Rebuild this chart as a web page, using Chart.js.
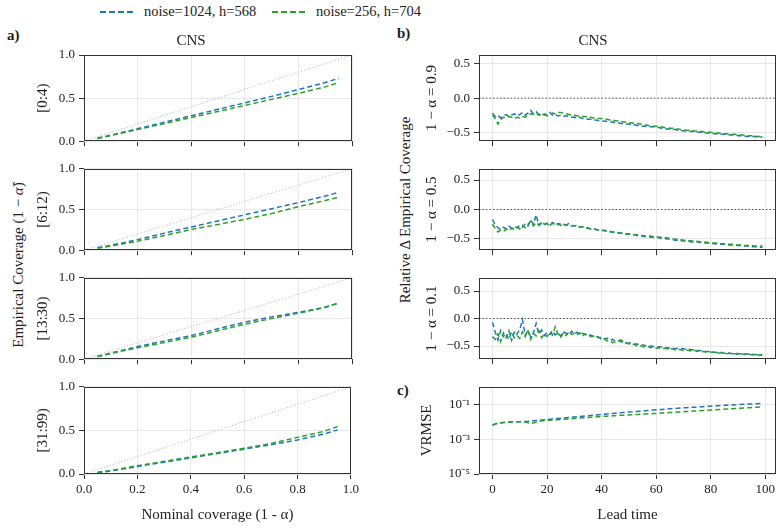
<!DOCTYPE html>
<html lang="en">
<head>
<meta charset="UTF-8">
<title>CNS coverage</title>
<script src="https://cdn.jsdelivr.net/npm/chart.js"></script>
<style>
  body { margin: 0; background: #fff; }
  #fig { position: relative; width: 783px; height: 531px; overflow: hidden;
         font-family: 'Liberation Serif', 'Times New Roman', serif; color: #222; }
  #fig canvas { position: absolute; }
  .txt { position: absolute; white-space: nowrap; line-height: 1.2; }
  .rot { transform: translate(-50%, -50%) rotate(-90deg); font-size: 15px; }
  .letter { font-weight: bold; font-size: 15px; }
  .swatch { position: absolute; height: 2px; }
</style>
</head>
<body>
<div id="fig">
  <div class="swatch" style="left:100px;top:11px;width:34px;background:repeating-linear-gradient(to right,#1f77b4 0 6px,transparent 6px 9px)"></div>
  <div class="txt" style="left:144px;top:3px;font-size:14.5px">noise=1024, h=568</div>
  <div class="swatch" style="left:272px;top:11px;width:34px;background:repeating-linear-gradient(to right,#2ca02c 0 6px,transparent 6px 9px)"></div>
  <div class="txt" style="left:316px;top:3px;font-size:14.5px">noise=256, h=704</div>

  <div class="txt letter" style="left:7px;top:26px">a)</div>
  <div class="txt letter" style="left:397px;top:24px">b)</div>
  <div class="txt letter" style="left:397px;top:381px">c)</div>

  <div class="txt rot" style="left:18px;top:265px">Empirical Coverage (1 − <i>α̂</i>)</div>
  <div class="txt rot" style="left:405px;top:210px">Relative Δ Empirical Coverage</div>
</div>
<script>
// ---- data ----
const nominal = [0.05, 0.1, 0.2, 0.3, 0.4, 0.5, 0.6, 0.7, 0.8, 0.9, 0.95];
const binLabels = ['[0:4)', '[6:12)', '[13:30)', '[31:99)'];

const cov0Blue  = [0.035, 0.07, 0.145, 0.22, 0.295, 0.37, 0.445, 0.52, 0.60, 0.68, 0.73];
const cov0Green = [0.03, 0.065, 0.135, 0.205, 0.275, 0.345, 0.415, 0.485, 0.555, 0.63, 0.68];
const cov1Blue  = [0.03, 0.06, 0.13, 0.21, 0.285, 0.36, 0.435, 0.51, 0.585, 0.665, 0.71];
const cov1Green = [0.025, 0.05, 0.11, 0.18, 0.255, 0.315, 0.38, 0.45, 0.535, 0.61, 0.65];
const cov2Blue  = [0.035, 0.075, 0.155, 0.225, 0.29, 0.375, 0.455, 0.52, 0.575, 0.64, 0.69];
const cov2Green = [0.03, 0.07, 0.14, 0.205, 0.27, 0.35, 0.43, 0.5, 0.565, 0.635, 0.69];
const cov3Blue  = [0.015, 0.035, 0.085, 0.135, 0.185, 0.235, 0.285, 0.335, 0.39, 0.46, 0.505];
const cov3Green = [0.02, 0.04, 0.095, 0.145, 0.195, 0.245, 0.295, 0.35, 0.42, 0.49, 0.545];

const leadTime = Array.from({length: 100}, (_, i) => i);
const alphaLabels = ['1 − α = 0.9', '1 − α = 0.5', '1 − α = 0.1'];

const rel09Blue = [
  -0.22, -0.27, -0.25, -0.29, -0.26, -0.24, -0.27, -0.25, -0.23, -0.26,
  -0.24, -0.21, -0.25, -0.22, -0.18, -0.23, -0.20, -0.24, -0.22, -0.25,
  -0.23, -0.21, -0.25, -0.24, -0.26, -0.25, -0.27, -0.26, -0.27, -0.28,
  -0.28, -0.29, -0.28, -0.30, -0.30, -0.31, -0.31, -0.32, -0.32, -0.33,
  -0.33, -0.34, -0.34, -0.35, -0.35, -0.36, -0.36, -0.37, -0.37, -0.38,
  -0.38, -0.39, -0.39, -0.40, -0.40, -0.41, -0.41, -0.42, -0.42, -0.42,
  -0.43, -0.43, -0.44, -0.44, -0.45, -0.45, -0.46, -0.46, -0.47, -0.47,
  -0.48, -0.48, -0.48, -0.49, -0.49, -0.50, -0.50, -0.50, -0.51, -0.51,
  -0.51, -0.52, -0.52, -0.52, -0.53, -0.53, -0.53, -0.54, -0.54, -0.54,
  -0.55, -0.55, -0.55, -0.56, -0.56, -0.56, -0.56, -0.57, -0.57, -0.57];
const rel09Green = [
  -0.25, -0.30, -0.38, -0.31, -0.28, -0.29, -0.27, -0.28, -0.30, -0.28,
  -0.29, -0.27, -0.28, -0.25, -0.23, -0.24, -0.22, -0.25, -0.24, -0.23,
  -0.26, -0.24, -0.22, -0.23, -0.21, -0.21, -0.22, -0.23, -0.24, -0.25,
  -0.25, -0.26, -0.26, -0.27, -0.27, -0.28, -0.28, -0.29, -0.29, -0.30,
  -0.30, -0.31, -0.31, -0.32, -0.32, -0.33, -0.33, -0.34, -0.35, -0.35,
  -0.36, -0.36, -0.37, -0.37, -0.38, -0.38, -0.39, -0.40, -0.40, -0.41,
  -0.41, -0.42, -0.42, -0.43, -0.43, -0.44, -0.44, -0.45, -0.45, -0.46,
  -0.46, -0.47, -0.47, -0.48, -0.48, -0.48, -0.49, -0.49, -0.50, -0.50,
  -0.50, -0.51, -0.51, -0.51, -0.52, -0.52, -0.52, -0.53, -0.53, -0.53,
  -0.54, -0.54, -0.54, -0.55, -0.55, -0.55, -0.55, -0.56, -0.56, -0.56];

const rel05Blue = [
  -0.17, -0.26, -0.31, -0.34, -0.30, -0.33, -0.28, -0.32, -0.29, -0.31,
  -0.27, -0.30, -0.24, -0.28, -0.18, -0.25, -0.09, -0.27, -0.23, -0.26,
  -0.24, -0.27, -0.22, -0.26, -0.24, -0.27, -0.25, -0.26, -0.24, -0.27,
  -0.28, -0.27, -0.30, -0.29, -0.31, -0.32, -0.33, -0.32, -0.34, -0.35,
  -0.36, -0.35, -0.37, -0.38, -0.38, -0.39, -0.40, -0.40, -0.41, -0.42,
  -0.41, -0.43, -0.43, -0.44, -0.45, -0.45, -0.46, -0.46, -0.47, -0.47,
  -0.47, -0.48, -0.49, -0.49, -0.50, -0.50, -0.51, -0.52, -0.52, -0.53,
  -0.53, -0.54, -0.54, -0.55, -0.55, -0.55, -0.56, -0.56, -0.57, -0.57,
  -0.57, -0.58, -0.58, -0.59, -0.59, -0.59, -0.60, -0.60, -0.60, -0.61,
  -0.61, -0.61, -0.62, -0.62, -0.62, -0.63, -0.63, -0.63, -0.64, -0.64];
const rel05Green = [
  -0.25, -0.32, -0.38, -0.35, -0.37, -0.33, -0.36, -0.32, -0.34, -0.30,
  -0.33, -0.27, -0.31, -0.25, -0.20, -0.28, -0.22, -0.26, -0.21, -0.25,
  -0.23, -0.27, -0.24, -0.22, -0.26, -0.23, -0.25, -0.27, -0.26, -0.28,
  -0.27, -0.29, -0.30, -0.29, -0.31, -0.31, -0.33, -0.33, -0.34, -0.35,
  -0.35, -0.36, -0.37, -0.37, -0.38, -0.39, -0.39, -0.40, -0.41, -0.41,
  -0.42, -0.42, -0.43, -0.43, -0.44, -0.44, -0.45, -0.45, -0.45, -0.46,
  -0.46, -0.47, -0.47, -0.48, -0.48, -0.49, -0.50, -0.50, -0.51, -0.51,
  -0.52, -0.52, -0.53, -0.53, -0.54, -0.54, -0.55, -0.55, -0.55, -0.56,
  -0.56, -0.57, -0.57, -0.57, -0.58, -0.58, -0.59, -0.59, -0.59, -0.60,
  -0.60, -0.60, -0.61, -0.61, -0.61, -0.61, -0.62, -0.62, -0.62, -0.62];

const rel01Blue = [
  -0.07, -0.25, -0.39, -0.22, -0.33, -0.27, -0.38, -0.24, -0.35, -0.28,
  -0.20, -0.02, -0.30, -0.22, -0.34, -0.26, -0.09, -0.28, -0.21, -0.31,
  -0.25, -0.29, -0.22, -0.30, -0.26, -0.32, -0.24, -0.27, -0.30, -0.23,
  -0.28, -0.25, -0.30, -0.27, -0.29, -0.31, -0.30, -0.33, -0.32, -0.35,
  -0.34, -0.37, -0.36, -0.39, -0.38, -0.41, -0.40, -0.42, -0.43, -0.44,
  -0.45, -0.44, -0.46, -0.47, -0.46, -0.48, -0.49, -0.50, -0.50, -0.51,
  -0.51, -0.52, -0.52, -0.53, -0.53, -0.54, -0.54, -0.55, -0.54, -0.55,
  -0.55, -0.56, -0.56, -0.57, -0.57, -0.58, -0.58, -0.59, -0.60, -0.60,
  -0.61, -0.61, -0.62, -0.61, -0.62, -0.63, -0.62, -0.63, -0.64, -0.63,
  -0.64, -0.64, -0.65, -0.64, -0.65, -0.65, -0.66, -0.65, -0.66, -0.66];
const rel01Green = [
  -0.33, -0.38, -0.28, -0.42, -0.26, -0.35, -0.22, -0.40, -0.25, -0.31,
  -0.36, -0.24, -0.33, -0.21, -0.38, -0.27, -0.32, -0.22, -0.35, -0.28,
  -0.33, -0.25, -0.30, -0.15, -0.28, -0.34, -0.26, -0.31, -0.24, -0.29,
  -0.27, -0.30, -0.26, -0.32, -0.28, -0.31, -0.33, -0.32, -0.35, -0.34,
  -0.38, -0.37, -0.41, -0.40, -0.44, -0.43, -0.41, -0.39, -0.42, -0.45,
  -0.46, -0.48, -0.47, -0.50, -0.49, -0.51, -0.52, -0.51, -0.53, -0.52,
  -0.54, -0.53, -0.55, -0.54, -0.55, -0.56, -0.55, -0.57, -0.56, -0.57,
  -0.58, -0.57, -0.58, -0.59, -0.58, -0.60, -0.59, -0.60, -0.61, -0.60,
  -0.61, -0.62, -0.61, -0.63, -0.62, -0.63, -0.64, -0.63, -0.64, -0.64,
  -0.65, -0.64, -0.65, -0.66, -0.65, -0.66, -0.66, -0.67, -0.66, -0.67];

const vrmseBlue = [
  0.0065, 0.0075, 0.0083, 0.0088, 0.0091, 0.0093, 0.0095, 0.0097, 0.0098, 0.0099,
  0.0100, 0.0102, 0.0104, 0.0106, 0.0109, 0.0112, 0.0115, 0.0119, 0.0123, 0.0128,
  0.0134, 0.0139, 0.0144, 0.0149, 0.0154, 0.0159, 0.0164, 0.0170, 0.0176, 0.0182,
  0.0188, 0.0194, 0.0200, 0.0207, 0.0214, 0.0221, 0.0228, 0.0235, 0.0243, 0.0250,
  0.0258, 0.0266, 0.0275, 0.0284, 0.0293, 0.0302, 0.0312, 0.0322, 0.0332, 0.0343,
  0.0354, 0.0365, 0.0376, 0.0388, 0.0400, 0.0412, 0.0425, 0.0438, 0.0451, 0.0465,
  0.0480, 0.0493, 0.0506, 0.0519, 0.0533, 0.0547, 0.0561, 0.0575, 0.0590, 0.0605,
  0.0620, 0.0635, 0.0650, 0.0665, 0.0681, 0.0697, 0.0713, 0.0729, 0.0745, 0.0762,
  0.0779, 0.0796, 0.0813, 0.0830, 0.0847, 0.0865, 0.0883, 0.0900, 0.0918, 0.0936,
  0.0954, 0.0972, 0.0990, 0.1008, 0.1025, 0.1042, 0.1058, 0.1074, 0.1090, 0.1105];
const vrmseGreen = [
  0.0062, 0.0072, 0.0080, 0.0085, 0.0089, 0.0091, 0.0093, 0.0095, 0.0097, 0.0098,
  0.0099, 0.0099, 0.0095, 0.0088, 0.0080, 0.0085, 0.0096, 0.0105, 0.0111, 0.0116,
  0.0119, 0.0121, 0.0124, 0.0127, 0.0130, 0.0134, 0.0137, 0.0141, 0.0145, 0.0149,
  0.0153, 0.0157, 0.0161, 0.0166, 0.0170, 0.0175, 0.0179, 0.0184, 0.0189, 0.0194,
  0.0199, 0.0203, 0.0207, 0.0212, 0.0216, 0.0221, 0.0225, 0.0230, 0.0234, 0.0239,
  0.0244, 0.0249, 0.0254, 0.0259, 0.0265, 0.0270, 0.0276, 0.0281, 0.0287, 0.0293,
  0.0299, 0.0305, 0.0312, 0.0319, 0.0326, 0.0333, 0.0340, 0.0347, 0.0355, 0.0363,
  0.0371, 0.0379, 0.0387, 0.0395, 0.0404, 0.0413, 0.0422, 0.0431, 0.0440, 0.0450,
  0.0460, 0.0471, 0.0482, 0.0493, 0.0504, 0.0516, 0.0528, 0.0540, 0.0552, 0.0565,
  0.0578, 0.0591, 0.0605, 0.0619, 0.0633, 0.0648, 0.0663, 0.0678, 0.0694, 0.0710];

// axis ticks and limits
const covTicksX = [0, 0.2, 0.4, 0.6, 0.8, 1.0];
const covTicksY = [0, 0.5, 1.0];
const covRange = [0, 1];
const leadTicks = [0, 20, 40, 60, 80, 100];
const leadRange = [-4.95, 103.95];
const relTicks = [-0.5, 0, 0.5];
const relLimits = [0.63, 0.69, 0.74];
const vrmseTicks = [1e-5, 1e-3, 1e-1];
const vrmseTickLabels = ['10⁻⁵', '10⁻³', '10⁻¹'];
const vrmseRange = [1e-5, 1];

// ---- drawing ----
const BLUE = '#1f77b4', GREEN = '#2ca02c', GRID = '#e8e8e8', INK = '#333';
Chart.defaults.font.family = "'Liberation Serif', 'Times New Roman', serif";
Chart.defaults.color = '#222';

const frame = {
  id: 'frame',
  afterDatasetsDraw(chart) {
    const {ctx, chartArea: a} = chart;
    ctx.save();
    ctx.strokeStyle = INK;
    ctx.lineWidth = 1;
    ctx.strokeRect(Math.round(a.left) + 0.5, Math.round(a.top) + 0.5,
                   Math.round(a.right - a.left) - 1, Math.round(a.bottom - a.top) - 1);
    ctx.restore();
  }
};

function series(xs, ys, color) {
  return {data: xs.map((x, i) => ({x: x, y: ys[i]})), borderColor: color, borderWidth: 1.5,
          borderDash: [5, 3], pointRadius: 0, fill: false, tension: 0};
}
function refLine(pts, color, dash) {
  return {data: pts, borderColor: color, borderWidth: 1, borderDash: dash, pointRadius: 0, fill: false};
}

// rows: canvas top, height, top padding, x-axis height
const rows = [
  {top: 25, h: 128, pad: 0, xh: 6},
  {top: 157, h: 105, pad: 8, xh: 6},
  {top: 266, h: 105, pad: 8, xh: 6},
  {top: 375, h: 151, pad: 8, xh: 52}
];

function panel(o) {
  const c = document.createElement('canvas');
  c.width = o.w; c.height = o.h;
  c.style.left = o.left + 'px'; c.style.top = o.top + 'px';
  c.style.width = o.w + 'px'; c.style.height = o.h + 'px';
  document.getElementById('fig').appendChild(c);
  const isLast = o.last;
  new Chart(c, {
    type: 'line',
    data: {datasets: o.datasets},
    options: {
      responsive: false,
      animation: false,
      events: [],
      layout: {padding: {top: o.pad, right: o.padRight, left: 0, bottom: 0}},
      plugins: {
        legend: {display: false},
        tooltip: {enabled: false},
        title: {display: !!o.title, text: o.title || '', color: '#222',
                font: {size: 15, weight: 'normal'}, padding: {top: 7, bottom: 5}}
      },
      scales: {
        x: {
          type: 'linear', min: o.xRange[0], max: o.xRange[1],
          afterBuildTicks: s => { s.ticks = o.xTicks.map(v => ({value: v})); },
          afterFit: s => { s.height = o.xh; },
          grid: {color: GRID, lineWidth: 1, tickColor: INK, tickLength: 5},
          border: {display: false},
          ticks: {display: isLast, font: {size: 13}, padding: 3, color: '#222', maxRotation: 0,
                  callback: v => o.xFmt(v)},
          title: {display: isLast, text: o.xTitle || '', font: {size: 15}, color: '#222',
                  padding: {top: 0, bottom: 2}}
        },
        y: {
          type: o.yType || 'linear', min: o.yRange[0], max: o.yRange[1],
          afterBuildTicks: s => { s.ticks = o.yTicks.map(v => ({value: v})); },
          afterFit: s => { s.width = o.yw; },
          grid: {color: GRID, lineWidth: 1, tickColor: INK, tickLength: 5},
          border: {display: false},
          ticks: {font: {size: 13}, padding: 4, color: '#222', callback: v => o.yFmt(v)},
          title: {display: true, text: o.yTitle, font: {size: 15}, color: '#222',
                  padding: {top: o.yTitlePad, bottom: 0}}
        }
      }
    },
    plugins: [frame]
  });
}

const fmt1 = v => v.toFixed(1).replace('-', '−');
const covSets = [[cov0Blue, cov0Green], [cov1Blue, cov1Green], [cov2Blue, cov2Green], [cov3Blue, cov3Green]];
const diag = covRange.map(v => ({x: v, y: v}));

covSets.forEach((pair, i) => {
  const r = rows[i];
  panel({
    left: 30, top: r.top, w: 332, h: r.h, pad: r.pad, padRight: 10, xh: r.xh, yw: 54,
    last: i === 3, title: i === 0 ? 'CNS' : null,
    xRange: covRange, xTicks: covTicksX, xFmt: fmt1, xTitle: 'Nominal coverage (1 - α)',
    yRange: covRange, yTicks: covTicksY, yFmt: fmt1, yTitle: binLabels[i], yTitlePad: 4,
    datasets: [series(nominal, pair[1], GREEN), series(nominal, pair[0], BLUE),
               refLine(diag, '#b0b0b0', [1, 2])]
  });
});

const relSets = [[rel09Blue, rel09Green], [rel05Blue, rel05Green], [rel01Blue, rel01Green]];
const zeroLine = leadRange.map(v => ({x: v, y: 0}));
relSets.forEach((pair, i) => {
  const r = rows[i];
  panel({
    left: 410, top: r.top, w: 372, h: r.h, pad: r.pad, padRight: 6, xh: r.xh, yw: 69,
    last: false, title: i === 0 ? 'CNS' : null,
    xRange: leadRange, xTicks: leadTicks, xFmt: v => String(v),
    yRange: [-relLimits[i], relLimits[i]], yTicks: relTicks, yFmt: fmt1,
    yTitle: alphaLabels[i], yTitlePad: 13,
    datasets: [series(leadTime, pair[1], GREEN), series(leadTime, pair[0], BLUE),
               refLine(zeroLine, '#555', [1.5, 2])]
  });
});

panel({
  left: 410, top: rows[3].top, w: 372, h: rows[3].h, pad: rows[3].pad, padRight: 6, xh: rows[3].xh, yw: 69,
  last: true, title: null,
  xRange: leadRange, xTicks: leadTicks, xFmt: v => String(v), xTitle: 'Lead time',
  yType: 'logarithmic', yRange: vrmseRange, yTicks: vrmseTicks,
  yFmt: v => vrmseTickLabels[vrmseTicks.findIndex(t => Math.abs(Math.log10(t) - Math.log10(v)) < 1e-6)] || '',
  yTitle: 'VRMSE', yTitlePad: 8,
  datasets: [series(leadTime, vrmseGreen, GREEN), series(leadTime, vrmseBlue, BLUE)]
});
</script>
</body>
</html>
